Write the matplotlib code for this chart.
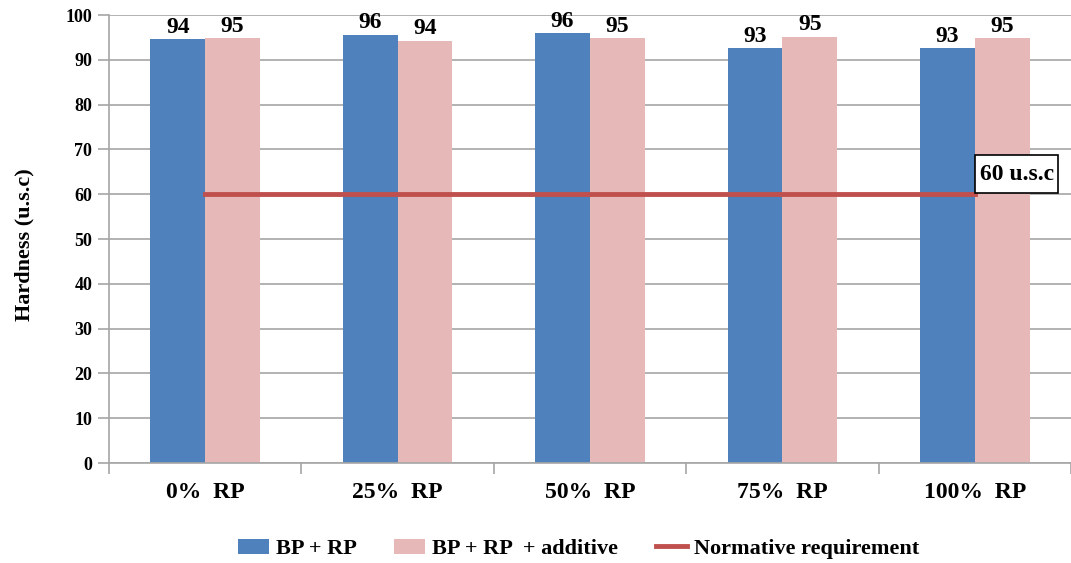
import numpy as np
import matplotlib
matplotlib.use("Agg")
import matplotlib.pyplot as plt
from matplotlib.patches import Rectangle

# data
categories = ["0%  RP", "25%  RP", "50%  RP", "75%  RP", "100%  RP"]
bp_rp = [94.6, 95.6, 95.9, 92.6, 92.6]
bp_rp_add = [94.9, 94.3, 94.9, 95.2, 94.9]
bp_rp_labels = ["94", "96", "96", "93", "93"]
bp_rp_add_labels = ["95", "94", "95", "95", "95"]
norm_req = 60

plt.rcParams['font.family'] = ['Liberation Serif', 'DejaVu Serif']
plt.rcParams['font.weight'] = 'bold'

fig = plt.figure(figsize=(10.71, 5.63), dpi=100)
ax = fig.add_axes([0.1018, 0.1776, 0.8982, 0.7957])

x = np.arange(len(categories))
w = 0.285
b1 = ax.bar(x - w/2, bp_rp, w, color='#4F81BD', label='BP + RP', zorder=2)
b2 = ax.bar(x + w/2, bp_rp_add, w, color='#E6B9B8', label='BP + RP  + additive', zorder=2)
ln, = ax.plot([x[0], x[-1]], [norm_req, norm_req], color='#C0504D', lw=3.5,
              label='Normative requirement', zorder=3)

for xi, v, t in zip(x - w/2, bp_rp, bp_rp_labels):
    ax.text(xi, v + 0.3, t, ha='center', va='bottom', fontsize=17, fontweight='bold')
for xi, v, t in zip(x + w/2, bp_rp_add, bp_rp_add_labels):
    ax.text(xi, v + 0.3, t, ha='center', va='bottom', fontsize=17, fontweight='bold')

# callout box for the normative line
ax.add_patch(Rectangle((x[-1], norm_req + 0.2), 0.435, 8.5, fc='white', ec='black',
                       lw=1.2, zorder=4, clip_on=False))
ax.text(x[-1] + 0.2175, norm_req + 4.5, "60 u.s.c", ha='center', va='center',
        fontsize=17, fontweight='bold', zorder=5)

ax.set_ylim(0, 100)
ax.set_xlim(-0.5, 4.5)
ax.set_yticks(np.arange(0, 101, 10))
ax.yaxis.grid(True, color='#A6A6A6', lw=1.2, zorder=0)
ax.set_axisbelow(True)
ax.set_xticks(x)
ax.set_xticklabels(categories, fontsize=17, fontweight='bold')
ax.set_xticks(np.arange(-0.5, 4.6, 1), minor=True)
ax.tick_params(axis='x', which='major', length=0, pad=14)
ax.tick_params(axis='x', which='minor', length=8, color='#A6A6A6', width=1.2)
ax.tick_params(axis='y', length=8, color='#A6A6A6', width=1.2, labelsize=13, pad=4)
for lab in ax.get_yticklabels():
    lab.set_fontweight('bold')
for s in ['top', 'right']:
    ax.spines[s].set_visible(False)
for s in ['left', 'bottom']:
    ax.spines[s].set_color('#A6A6A6')
    ax.spines[s].set_linewidth(1.2)

ax.set_ylabel("Hardness (u.s.c)", fontsize=16, fontweight='bold')
ax.yaxis.set_label_coords(-0.078, 0.487)

fig.legend(handles=[b1, b2, ln], loc='center', bbox_to_anchor=(0.54, 0.025), ncol=3,
           frameon=False, handlelength=1.4, handleheight=0.65, handletextpad=0.3,
           columnspacing=1.7, prop={'weight': 'bold', 'size': 16})

fig.savefig("out.png", dpi=100)
